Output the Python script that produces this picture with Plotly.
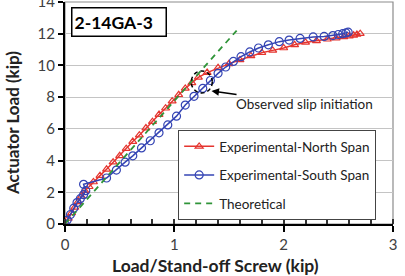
import plotly.graph_objects as go

north_x = [0, 0.03, 0.06, 0.09, 0.12, 0.15, 0.18, 0.22, 0.26, 0.32, 0.38, 0.44, 0.50, 0.56, 0.62, 0.68,
           0.74, 0.80, 0.86, 0.92, 0.98, 1.04, 1.10, 1.16, 1.22, 1.30, 1.40, 1.50, 1.60, 1.70, 1.80, 1.90,
           2.00, 2.10, 2.20, 2.30, 2.40, 2.48, 2.55, 2.60, 2.64, 2.67, 2.70]
north_y = [0, 0.35, 0.7, 1.05, 1.4, 1.75, 2.1, 2.35, 2.65, 3.05, 3.45, 3.9, 4.3, 4.75, 5.2, 5.6,
           6.05, 6.45, 6.9, 7.3, 7.75, 8.15, 8.55, 8.9, 9.25, 9.55, 9.85, 10.1, 10.35, 10.6, 10.8, 10.95,
           11.1, 11.3, 11.45, 11.55, 11.65, 11.72, 11.8, 11.85, 11.9, 11.95, 12.0]

south_x = [0, 0.02, 0.05, 0.08, 0.11, 0.14, 0.17, 0.19, 0.17, 0.38, 0.47, 0.55, 0.62, 0.70, 0.78, 0.86,
           0.94, 1.02, 1.10, 1.18, 1.26, 1.33, 1.40, 1.47, 1.54, 1.61, 1.69, 1.77, 1.86, 1.96, 2.05, 2.15,
           2.27, 2.37, 2.45, 2.50, 2.54, 2.57, 2.59]
south_y = [0, 0.25, 0.6, 1.0, 1.35, 1.6, 1.85, 2.1, 2.5, 2.9, 3.4, 3.9, 4.3, 4.8, 5.25, 5.75,
           6.25, 6.8, 7.5, 8.05, 8.55, 9.05, 9.5, 9.9, 10.25, 10.55, 10.85, 11.1, 11.3, 11.5, 11.6, 11.7,
           11.8, 11.83, 11.88, 11.95, 12.0, 12.05, 12.1]

theory_x = [0, 1.57]
theory_y = [0, 12.2]

y_ticks = [0, 2, 4, 6, 8, 10, 12, 14]
x_ticks = [0, 1, 2, 3]

RED = "#E5352F"
BLUE = "#3444B4"
GREEN = "#2F9438"
FONT = "Lato"

fig = go.Figure()
fig.add_trace(go.Scatter(x=north_x, y=north_y, mode="lines+markers", name="Experimental-North Span",
                         legendgroup="a",
                         line=dict(color=RED, width=1.5),
                         marker=dict(symbol="triangle-up-open", size=7, color=RED, line=dict(width=1.2))))
fig.add_trace(go.Scatter(x=south_x, y=south_y, mode="lines+markers", name="Experimental-South Span",
                         legendgroup="b",
                         line=dict(color=BLUE, width=1.5),
                         marker=dict(symbol="circle-open", size=8, color=BLUE, line=dict(width=1.2))))
fig.add_trace(go.Scatter(x=theory_x, y=theory_y, mode="lines", name="Theoretical",
                         legendgroup="c",
                         line=dict(color=GREEN, width=1.8, dash="6px,5px")))

# plot frame (gray) top/right
fig.add_shape(type="rect", xref="paper", yref="paper", x0=0, x1=1, y0=0, y1=1,
              line=dict(color="#8c8c8c", width=1.2), layer="below")

# dashed circle
fig.add_shape(type="circle", xref="x", yref="y", x0=1.155, x1=1.347, y0=8.26, y1=9.65,
              line=dict(color="black", width=1.5, dash="4px,3px"))

fig.add_annotation(x=1.34, y=8.39, xref="x", yref="y", text="Observed slip initiation",
                   showarrow=True, ax=93, ay=13, arrowhead=2, arrowsize=1, arrowwidth=1.5,
                   arrowcolor="black", font=dict(family=FONT, size=13.5, color="#222"))

fig.add_annotation(x=0.017, y=0.978, xref="paper", yref="paper", xanchor="left", yanchor="top",
                   text="<b>2-14GA-3</b>", showarrow=False, bordercolor="black", borderwidth=1.5,
                   borderpad=2, bgcolor="white", width=89, height=23, align="left",
                   font=dict(family=FONT, size=17.5, color="black"))

# axis titles
fig.add_annotation(x=0.46, y=-0.185, xref="paper", yref="paper", xanchor="center", yanchor="middle",
                   text="<b>Load/Stand-off Screw (kip)</b>", showarrow=False,
                   font=dict(family=FONT, size=17.5, color="#222"))
fig.add_annotation(x=-0.16, y=0.453, xref="paper", yref="paper", xanchor="center", yanchor="middle",
                   text="<b>Actuator Load (kip)</b>", showarrow=False, textangle=-90,
                   font=dict(family=FONT, size=17, color="#222"))

fig.update_layout(
    width=405, height=276,
    margin=dict(l=65, r=12, t=2, b=52),
    paper_bgcolor="white", plot_bgcolor="white",
    font=dict(family=FONT, size=15, color="#404040"),
    showlegend=True,
    legend=dict(x=0.345, y=0.423, xanchor="left", yanchor="top",
                bgcolor="white", bordercolor="#444", borderwidth=1,
                font=dict(family=FONT, size=13.5, color="#222"),
                tracegroupgap=8, itemwidth=30),
    xaxis=dict(range=[0, 3], tickvals=x_ticks, showgrid=False, zeroline=False, automargin=False,
               showline=True, linecolor="black", linewidth=2,
               ticks="outside", ticklen=6, tickcolor="black", tickwidth=1.5,
               minor=dict(dtick=0.2, tick0=0, ticks="inside", ticklen=5, tickcolor="#333", showgrid=False)),
    yaxis=dict(range=[0, 14], tickvals=y_ticks, showgrid=True, gridcolor="#c4c4c4", gridwidth=1, zeroline=False,
               showline=True, linecolor="black", linewidth=2, ticklabeloverflow="allow", automargin=False,
               ticks="outside", ticklen=5, tickcolor="black", tickwidth=1.5),
)

fig.write_html("out.html")
